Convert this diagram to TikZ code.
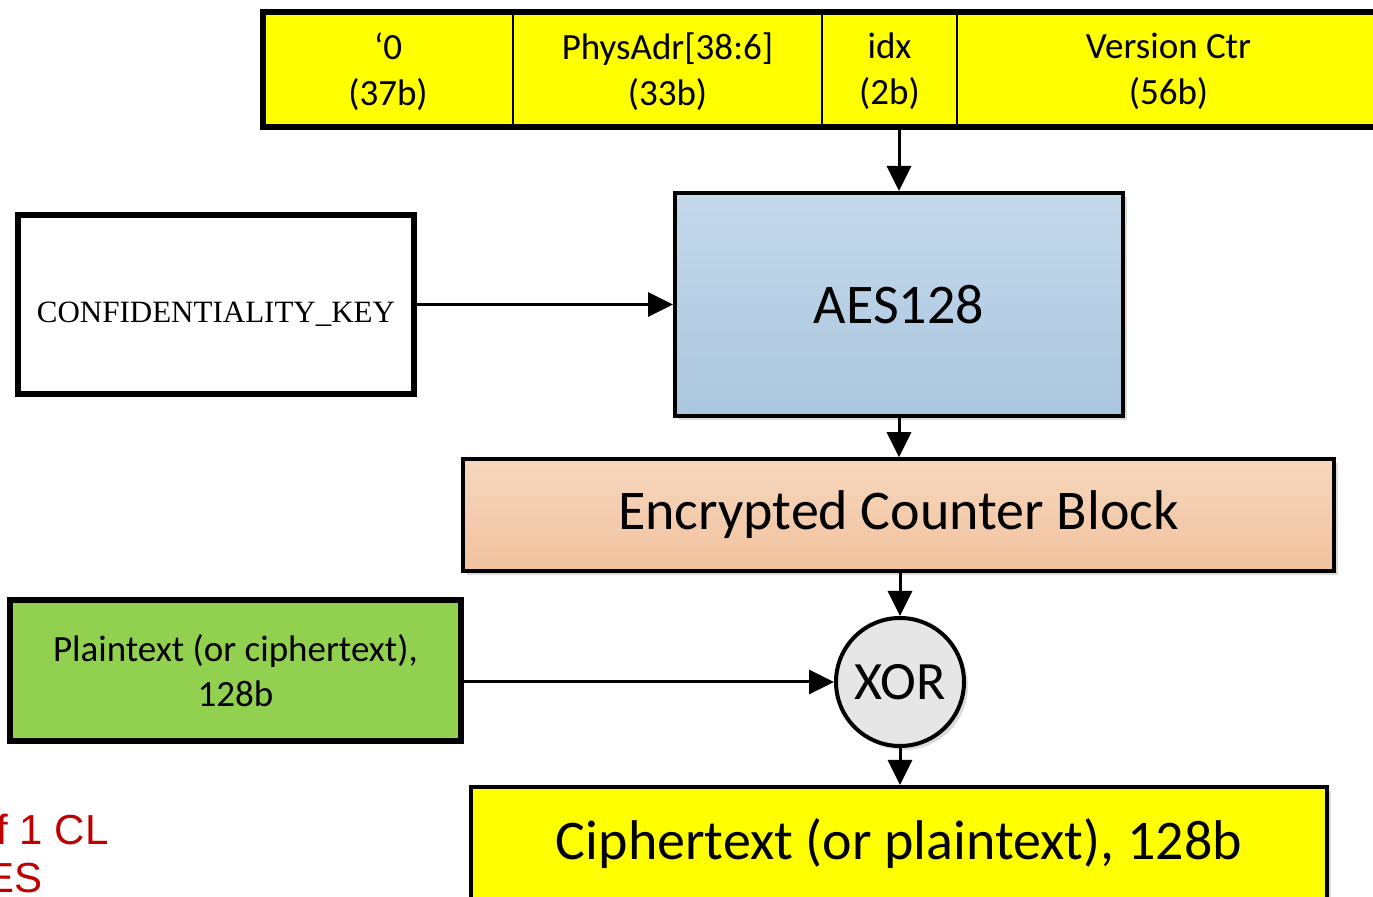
\documentclass[tikz,border=0pt]{standalone}
\usepackage{fontspec}
\setmainfont{Carlito}
\newfontfamily\keyfont{Liberation Serif}
\newfontfamily\notefont{Liberation Sans}
\usetikzlibrary{arrows.meta,shadows}
\definecolor{fieldyellow}{HTML}{FFFF00}
\definecolor{aestop}{HTML}{C4D8EA}
\definecolor{aesbot}{HTML}{ABC7DF}
\definecolor{ecbtop}{HTML}{F6D7BE}
\definecolor{ecbbot}{HTML}{F1C29E}
\definecolor{xorgray}{HTML}{E6E6E6}
\definecolor{plaingreen}{HTML}{92D050}
\definecolor{notered}{HTML}{C00000}
\tikzset{
  flow/.style={line width=1.5pt,-{Triangle[length=12.5pt,width=12pt]}},
  cell/.style={draw,line width=1pt,fill=fieldyellow,inner sep=0pt,align=center,yshift=-1pt,
    minimum height=57.5pt,font=\fontsize{18.5}{23}\selectfont},
  bigtext/.style={font=\fontsize{28}{34}\selectfont},
  softshadow/.style={drop shadow={shadow xshift=2pt,shadow yshift=-2pt,fill=black!14,opacity=1}},
}
\begin{document}
\begin{tikzpicture}[x=0.5pt,y=-0.5pt]
\useasboundingbox (0,0) rectangle (1373,897);
\clip (0,0) rectangle (1373,897);

% counter block fields
\node[cell,minimum width=125pt]   (c0) at (388,69.5)    {‘0\\(37b)};
\node[cell,minimum width=154.5pt] (c1) at (667.5,69.5)  {PhysAdr[38:6]\\(33b)};
\node[cell,minimum width=67.5pt]  (c2) at (889.5,69.5)  {idx\\(2b)};
\node[cell,minimum width=211.5pt] (c3) at (1168.5,69.5) {Version Ctr\\(56b)};
\node[draw,line width=3pt,inner sep=0pt,minimum width=558.5pt,minimum height=57.5pt] (bar) at (821.5,69.5) {};

% processing blocks
\node[draw,line width=2pt,top color=aestop,bottom color=aesbot,softshadow,
      minimum width=224pt,minimum height=111.5pt,bigtext] (aes) at (899,304.5) {AES128};
\node[draw,line width=3pt,fill=white,minimum width=198pt,minimum height=89.5pt] (key) at (216,304.5) {};
\node[font=\keyfont\fontsize{15.5}{18}\selectfont,inner sep=0pt] (keytext)
      at ([yshift=-5pt]key.center) {CONFIDENTIALITY\_KEY};
\node[draw,line width=1.75pt,top color=ecbtop,bottom color=ecbbot,softshadow,
      minimum width=435.5pt,minimum height=56pt,bigtext] (ecb) at (898.5,515) {Encrypted Counter Block};
\node[draw,circle,line width=2pt,fill=xorgray,softshadow,inner sep=0pt,minimum size=64pt,
      font=\fontsize{27}{32}\selectfont] (xor) at (900,682) {XOR};
\node[draw,line width=3pt,fill=plaingreen,align=center,minimum width=225.5pt,minimum height=70.5pt,
      font=\fontsize{18.5}{22.5}\selectfont] (plain) at (235.5,670.5) {Plaintext (or ciphertext),\\128b};
\node[draw,line width=2pt,fill=fieldyellow,softshadow,
      minimum width=428pt,minimum height=56.5pt,bigtext] (cipher) at (899,843.5) {Ciphertext (or plaintext), 128b};

% data flow
\draw[flow] (bar.south -| aes.north) -- (aes.north);
\draw[flow] (key.east) -- (aes.west);
\draw[flow] (aes.south) -- (aes.south |- ecb.north);
\draw[flow] (ecb.south -| xor.north) -- (xor.north);
\draw[flow] (plain.east |- xor.west) -- (xor.west);
\draw[flow] (xor.south) -- (xor.south |- cipher.north);

% side note
\node[anchor=base east,inner sep=0pt,text=notered,font=\notefont\fontsize{21}{25}\selectfont] (note1) at (109,845) {f 1 CL};
\node[anchor=base east,inner sep=0pt,text=notered,font=\notefont\fontsize{21}{25}\selectfont] (note2) at (43,893) {ES};
\end{tikzpicture}
\end{document}
